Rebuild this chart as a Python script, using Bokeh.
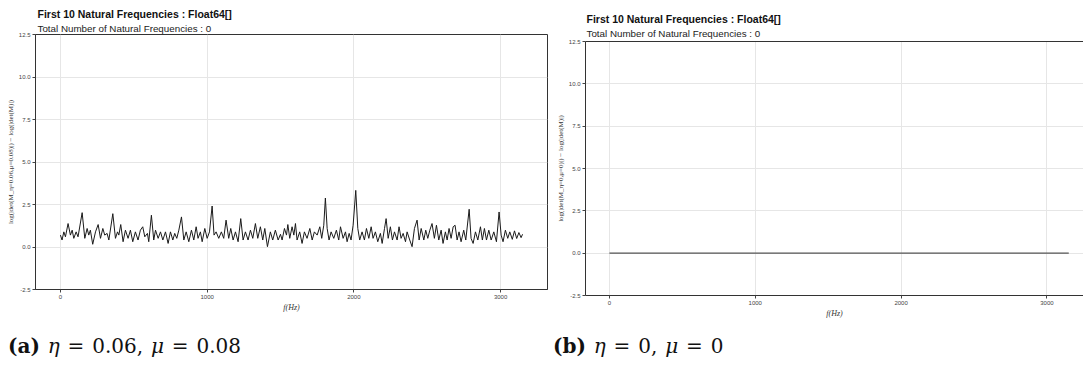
from bokeh.plotting import figure
from bokeh.models import Range1d, FixedTicker, PrintfTickFormatter, Title, LinearAxis, Div, Spacer
from bokeh.layouts import row, column
from bokeh.embed import file_html
from bokeh.resources import INLINE

# ---------------- data ----------------
freq_a = [
    0, 11, 23, 34, 52, 68, 80, 91, 107, 120,
    148, 166, 182, 193, 204, 220, 239, 257, 273, 289,
    302, 318, 330, 357, 375, 389, 398, 411, 427, 443,
    461, 477, 493, 511, 529, 545, 561, 575, 593, 602,
    620, 636, 648, 666, 682, 698, 716, 734, 750, 766,
    779, 793, 807, 825, 841, 857, 875, 893, 909, 925,
    938, 954, 966, 984, 1000, 1016, 1034, 1047, 1061, 1079,
    1097, 1113, 1129, 1147, 1161, 1177, 1193, 1211, 1229, 1245,
    1261, 1279, 1295, 1311, 1329, 1345, 1363, 1379, 1393, 1411,
    1431, 1447, 1465, 1484, 1500, 1511, 1527, 1541, 1550, 1563,
    1579, 1591, 1602, 1613, 1631, 1647, 1663, 1681, 1700, 1716,
    1731, 1750, 1768, 1781, 1795, 1806, 1818, 1831, 1845, 1863,
    1881, 1897, 1909, 1927, 1943, 1954, 1968, 1981, 1995, 2013,
    2027, 2040, 2056, 2072, 2086, 2102, 2118, 2131, 2147, 2163,
    2181, 2193, 2209, 2220, 2234, 2249, 2263, 2277, 2295, 2308,
    2322, 2336, 2352, 2363, 2381, 2397, 2413, 2431, 2445, 2459,
    2477, 2490, 2504, 2518, 2533, 2549, 2563, 2579, 2595, 2608,
    2624, 2636, 2649, 2663, 2677, 2690, 2704, 2717, 2731, 2749,
    2763, 2786, 2799, 2813, 2829, 2845, 2863, 2876, 2890, 2904,
    2920, 2936, 2954, 2972, 2990, 3004, 3017, 3033, 3049, 3063,
    3080, 3095, 3110, 3125, 3140, 3150,
]
val_a = [
    0.70, 0.41, 0.89, 0.60, 1.38, 0.70, 0.99, 0.51, 0.89, 0.60,
    2.02, 0.51, 1.09, 0.70, 0.99, 0.16, 0.89, 1.32, 0.51, 1.09,
    0.70, 0.80, 0.41, 1.96, 0.51, 0.89, 0.70, 1.32, 0.31, 0.99,
    0.51, 0.99, 0.31, 0.89, 0.41, 0.99, 1.19, 0.60, 0.80, 0.31,
    1.87, 0.41, 0.99, 0.51, 0.89, 0.41, 0.89, 0.21, 0.89, 0.41,
    0.80, 0.51, 0.99, 1.77, 0.41, 0.89, 0.31, 0.99, 0.41, 1.19,
    0.51, 0.89, 0.31, 1.09, 0.51, 0.89, 2.41, 0.70, 0.89, 0.51,
    0.89, 0.51, 1.58, 0.51, 1.09, 0.41, 0.89, 0.31, 1.67, 0.41,
    0.89, 0.41, 0.99, 0.51, 1.38, 0.51, 1.19, 0.41, 1.09, 0.02,
    0.89, 0.41, 0.99, 0.41, 0.75, 0.41, 1.09, 0.70, 1.32, 0.51,
    1.19, 0.70, 1.38, 0.41, 0.89, 0.21, 0.89, 0.51, 1.09, 0.41,
    0.89, 0.70, 1.19, 0.51, 1.28, 2.88, 1.09, 0.41, 0.89, 0.51,
    0.99, 0.41, 1.19, 0.51, 0.89, 0.31, 0.80, 0.41, 1.28, 3.33,
    1.09, 0.41, 0.89, 0.41, 1.09, 0.51, 1.19, 0.51, 0.89, 0.31,
    0.80, 0.21, 1.09, 1.67, 0.51, 1.19, 0.41, 0.89, 0.41, 1.19,
    0.51, 0.80, 0.31, 0.89, 0.41, 0.02, 1.09, 1.58, 0.41, 1.09,
    0.41, 0.99, 0.51, 0.99, 1.38, 0.51, 1.28, 0.41, 0.99, 0.21,
    0.89, 0.41, 1.09, 0.51, 1.19, 1.28, 0.41, 0.89, 0.31, 0.99,
    0.41, 2.22, 0.51, 0.21, 0.89, 0.41, 1.19, 0.41, 1.09, 0.41,
    0.99, 0.41, 0.89, 0.31, 2.06, 0.70, 0.31, 0.99, 0.51, 0.89,
    0.45, 0.95, 0.50, 0.85, 0.55, 0.75,
]
freq_b = [0, 3150]
val_b = [0.0, 0.0]

x_ticks = [0, 1000, 2000, 3000]
y_ticks = [-2.5, 0.0, 2.5, 5.0, 7.5, 10.0, 12.5]

title_main = "First 10 Natural Frequencies : Float64[]"
title_sub = "Total Number of Natural Frequencies : 0"
xlabel = "f(Hz)"
ylabel_a = "log(|det(M_η=0.06,μ=0.08)|) − log(|det(M)|)"
ylabel_b = "log(|det(M_η=0,μ=0)|) − log(|det(M)|)"
caption_a = ("(a)", "0.06", "0.08")
caption_b = ("(b)", "0", "0")

SANS = "Liberation Sans"
SERIF = "Liberation Serif"


def make_fig(fx, fy, ylabel, xr, width, height, mb, boxed, line_color, line_width,
             sub_standoff, main_standoff, title_offset):
    p = figure(width=width, height=height, title=None,
               x_range=Range1d(*xr), y_range=Range1d(-2.5, 12.5),
               output_backend="svg", toolbar_location=None,
               min_border_left=mb[0], min_border_right=mb[1],
               min_border_top=mb[2], min_border_bottom=mb[3])
    p.background_fill_color = "white"
    p.border_fill_color = "white"

    xb = p.below[0]
    yl = p.left[0]
    xb.ticker = FixedTicker(ticks=x_ticks)
    yl.ticker = FixedTicker(ticks=y_ticks)
    yl.formatter = PrintfTickFormatter(format="%.1f")
    p.xgrid.ticker = FixedTicker(ticks=x_ticks)
    p.ygrid.ticker = FixedTicker(ticks=y_ticks)
    for g in (p.xgrid, p.ygrid):
        g.grid_line_color = "#e6e6e6"
        g.grid_line_width = 1
    for ax in (xb, yl):
        ax.axis_line_color = "#333333"
        ax.major_tick_line_color = "#444444"
        ax.major_tick_out = 3
        ax.major_tick_in = 0
        ax.minor_tick_line_color = None
        ax.major_label_text_font = SANS
        ax.major_label_text_font_size = "6px"
        ax.major_label_text_color = "#444444"
        ax.major_label_standoff = 2
        ax.axis_label_standoff = 1
        ax.axis_label_text_color = "#333333"
        ax.axis_label_text_font = SERIF
    xb.axis_label = xlabel
    xb.axis_label_text_font_style = "italic"
    xb.axis_label_text_font_size = "8px"
    yl.axis_label = ylabel
    yl.axis_label_text_font_style = "normal"
    yl.axis_label_text_font_size = "7px"

    if boxed:
        p.outline_line_color = "#333333"
        p.outline_line_width = 1
    else:
        p.outline_line_color = None
        top = LinearAxis(ticker=FixedTicker(ticks=[]), axis_line_color="#333333",
                         major_tick_out=0, major_tick_in=0, major_label_standoff=0,
                         minor_tick_line_color=None, axis_label=None)
        p.add_layout(top, "above")

    p.add_layout(Title(text=title_sub, align="left", text_font=SANS,
                       text_font_size="9.8px", text_font_style="normal",
                       text_color="#222222", standoff=sub_standoff,
                       offset=title_offset), "above")
    p.add_layout(Title(text=title_main, align="left", text_font=SANS,
                       text_font_size="10.5px", text_font_style="bold",
                       text_color="#111111", standoff=main_standoff,
                       offset=title_offset), "above")

    p.line(fx, fy, line_color=line_color, line_width=line_width)
    return p


fig_a = make_fig(freq_a, val_a, ylabel_a, (-170, 3320), 553, 314,
                 (35, 6, 34, 24), True, "#1a1a1a", 1.0, 2, 0, 2)
fig_b = make_fig(freq_b, val_b, ylabel_b, (-164, 3251), 530, 313,
                 (29, 0, 34, 25), False, "#555555", 1.3, 6, -4, 1)


def caption_html(c, pad_top, pad_left):
    lab, eta, mu = c
    return ('<div style="font-family:\'DejaVu Serif\';font-size:20px;line-height:23px;'
            f'padding-top:{pad_top}px;padding-left:{pad_left}px;color:#111;'
            'white-space:nowrap;word-spacing:1.5px;">'
            f'<b>{lab}</b> <i>η</i> = {eta}, <i>μ</i> = {mu}</div>')


div_a = Div(text=caption_html(caption_a, 21, 8), width=553, height=51, margin=0)
div_b = Div(text=caption_html(caption_b, 15, 0), width=530, height=45, margin=0)

left_col = column(fig_a, div_a)
right_col = column(Spacer(width=530, height=7), fig_b, div_b)
layout = row(left_col, right_col)

open("out.html", "w").write(file_html(layout, INLINE))
